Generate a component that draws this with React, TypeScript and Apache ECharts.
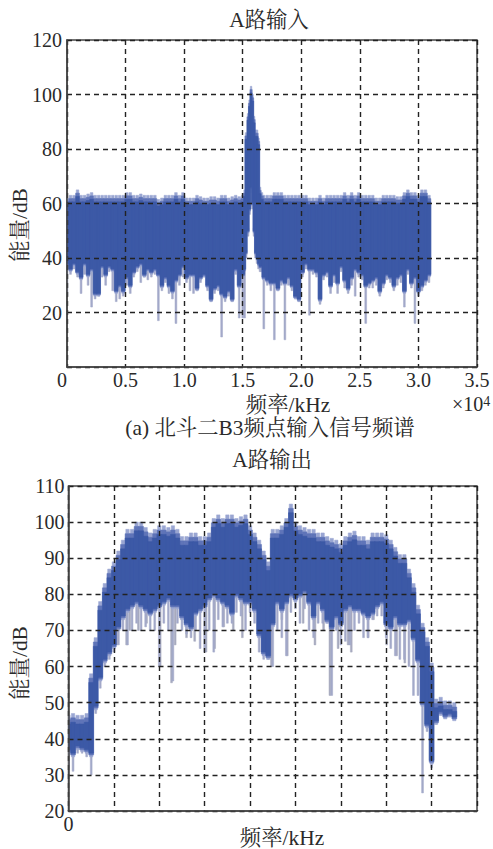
import React, { useEffect, useRef } from "react";
import * as echarts from "echarts";

// [frequency, envelope top, solid band bottom, lowest spike]
const inputRows = [
  [0,62,38,26],[300,63,36,34],[600,63,38,36],[900,65,35,33],[1200,63,33,27],[1500,63,38,34],[1800,63.5,34,30],[2100,64,36,22],[2400,63,27,25],[2700,63,27,26],
  [3000,63,37,33],[3300,63,34,30],[3600,63,37,35],[3900,63,36,28],[4200,63,28,24],[4500,63,30,25],[4800,63,28,26],[5100,64,33,30],[5400,64,30,27],[5700,63,35,33],
  [6000,63,37,35],[6300,63.5,38,31],[6600,63,34,33],[6900,63,36,32],[7200,63,35,33],[7500,63,36,34],[7800,61.5,34,17],[8100,62,30,28],[8400,63,33,31],[8700,63,30,27],
  [9000,63,28,25],[9300,64,32,16],[9600,63,34,30],[9900,64,37,33],[10200,62,33,31],[10500,62,34,28],[10800,62,34,27],[11100,63,29,28],[11400,62.5,33,31],[11700,62,34,33],
  [12000,62,30,28],[12300,62.5,25,24],[12600,62.5,29,27],[12900,62,30,28],[13200,63,27,11],[13500,63,26,24],[13800,62,28,26],[14100,62.5,25,24],[14400,63,36,34],[14700,62.5,30,18],
  [15000,63,34,18],
  [16600,64,37,35],[16800,63,33,14],[17100,63,32,30],[17400,63,31,28],[17700,64,31,10],[18000,64,29,28],[18300,64,32,30],[18600,63,31,10],[18900,63,33,30],[19200,63,30,28],
  [19500,63,26,25],[19800,63,25,24],[20100,63,35,33],[20400,63,38,36],[20700,62,36,19],[21000,62,36,34],[21300,62,35,33],[21600,63,25,23],[21900,62,34,32],[22200,63,35,33],
  [22500,63,30,27],[22800,63,34,31],[23100,63,31,27],[23400,63,37,35],[23700,64,32,29],[24000,63,29,27],[24300,64,33,30],[24600,63,36,26],[24900,64,35,33],[25200,63,34,32],
  [25500,63,30,16],[25800,63,31,29],[26100,63,32,29],[26400,62,33,30],[26700,62,28,26],[27000,63,31,29],[27300,63,34,32],[27600,63,33,31],[27900,63,30,28],[28200,62.5,33,30],
  [28500,62.5,34,31],[28800,64,28,22],[29100,65,36,34],[29400,64,31,29],[29700,64,33,16],[30000,63,28,26],[30300,65,30,28],[30600,65,32,30],[30900,63,34,31],
];
// the narrow carrier peak near 1.57e4, sampled more finely
const inputPeakRows = [
  [15158,65,36,18],[15286,86,42,40],[15457,93,50,48],[15585,98,58,56],[15713,103,66,64],[15841,100,60,58],[15970,92,50,48],[16098,87,42,40],[16225,87,40,38],[16353,84,38,36],[16481,66,37,35],
];
const outputRows = [
  [0,46.5,37,32],[0.1,47,36,31],[0.2,46.5,38,36],[0.3,46.5,37.5,36],[0.4,47,37,35],[0.5,58,36,30],[0.6,68,49,47],[0.7,78,57,54],[0.8,83,62,60],[0.9,87,64,62],
  [1,89,66,64],[1.1,92,71,66],[1.2,95,74,70],[1.3,98,76,66],[1.4,98,77,70],[1.5,100,78,72],[1.6,100,77,70],[1.7,98.5,76,71],[1.8,97,75,70],[1.9,98,76,70],
  [2,99,77,60],[2.1,99,78,72],[2.2,98.5,79,70],[2.3,99,77,56],[2.4,98,77,72],[2.5,96,74,70],[2.6,96,72,69],[2.7,97,71,68],[2.8,97,75,70],[2.9,96,76,65],
  [3,96,77,64],[3.1,97,79,70],[3.2,101,80,64],[3.3,102,79,73],[3.4,101,78,71],[3.5,102,77,72],[3.6,102,75,72],[3.7,101,80,75],[3.8,101.5,79,74],[3.9,102,78,70],
  [4,99,78,75],[4.1,97,76,72],[4.2,95,69,64],[4.3,92,64,62],[4.4,89,63,62],[4.5,98,72,60],[4.6,98,78,70],[4.7,99,76,68],[4.8,101,78,63],[4.9,105,80,75],
  [5,100,79,76],[5.1,99,80,72],[5.2,98.5,81,76],[5.3,98,78,70],[5.4,98,74,68],[5.5,97,78,72],[5.6,97,76,72],[5.7,96,73,72],[5.8,95.5,71,52],[5.9,95,74,70],
  [6,94,72,66],[6.1,96,76,67],[6.2,97,77,66],[6.3,97.5,76,70],[6.4,96,76,72],[6.5,96,75,68],[6.6,95,74,68],[6.7,97,75,73],[6.8,97,77,74],[6.9,97,78,74],
  [7,96.5,72,68],[7.1,95,71,65],[7.2,93,74,63],[7.3,91,72,62],[7.4,91,72,62],[7.5,87,73,60],[7.6,83,68,52],[7.7,77,62,52],[7.8,72,50,25],[7.9,68,44,42],
  [8,61,34,32],[8.1,51,45,44],[8.2,51.5,47.5,46.5],[8.3,50.5,46.5,46],[8.4,50.5,47,46.5],[8.5,50,46,45.5],
];
// thin grey spikes between the columns of the output band: [frequency, lowest value]
const outputSpikes = [
  [1.06,66],[1.28,66],[1.35,70],[1.54,70],[1.72,72],[2.02,60],[2.27,55.5],[2.35,66],[2.6,68],[2.78,67],[3.03,64],[3.22,65],[3.42,71],[3.63,70],[3.83,68],
  [4.33,63],[4.47,60],[4.7,73],[4.82,63],[5.17,72],[5.43,66],[5.62,70],[5.76,52],[5.94,65],[6.16,66],[6.23,64],[6.6,68],[6.72,73],[7.01,66],[7.23,63],[7.41,61],
];
const inputXTicks = ["0", "0.5", "1.0", "1.5", "2.0", "2.5", "3.0", "3.5"];
const inputTitle = "A路输入";
const outputTitle = "A路输出";
const xName = "频率/kHz";
const yName = "能量/dB";
const caption = "(a) 北斗二B3频点输入信号频谱";

const FONT = '"Liberation Serif","Noto Serif CJK SC","Noto Sans CJK SC"';
const INK = "#2a2a2a";

const columns = (width: number, color: string) => (_: any, api: any) => {
  const top = api.coord([api.value(0), api.value(2)]);
  const bottom = api.coord([api.value(0), api.value(1)]);
  const left = Math.max(top[0] - width / 2, _.coordSys.x);
  return {
    type: "rect",
    shape: { x: left, y: top[1], width: top[0] + width / 2 - left, height: bottom[1] - top[1] },
    style: { fill: color, stroke: color, lineWidth: 0.5 },
  };
};

const layer = (data: number[][], axis: number, width: number, color: string, z: number) => ({
  type: "custom",
  xAxisIndex: axis,
  yAxisIndex: axis,
  silent: true,
  z,
  encode: { x: 0, y: [1, 2] },
  data,
  renderItem: columns(width, color),
});

const layers = (rows: number[][], axis: number, width: number) => [
  layer(rows.map((r) => [r[0], r[3], r[2] + 1]), axis, 1.8, "#a3a9c9", 2),
  layer(rows.map((r) => [r[0], r[2] - 1, r[1]]), axis, width * 0.7, "#9aa6d2", 3),
  layer(rows.map((r) => [r[0], r[2] - 0.5, r[1] - 1.2]), axis, width, "#5f74b8", 4),
  layer(rows.map((r) => [r[0], r[2], r[1] - 2.4]), axis, width, "#3c59a6", 5),
];

const label = (text: string, x: number, y: number, extra: any = {}) => ({
  type: "text",
  x,
  y,
  silent: true,
  style: {
    text,
    fill: INK,
    font: `21.4px ${FONT}`,
    align: "center",
    verticalAlign: "middle",
    ...extra,
  },
});

const dashed = { show: true, lineStyle: { color: "#222", type: [5, 4], width: 1.4 } };
const frame = { show: true, onZero: false, lineStyle: { color: "#444", width: 1.5 } };
const ticks = { show: false };
const tickText = { color: INK, fontSize: 20, fontFamily: FONT };

export default function App() {
  const ref = useRef<HTMLDivElement>(null);
  useEffect(() => {
    document.body.style.margin = "0";
    const chart = echarts.init(ref.current!, undefined, { renderer: "svg" });
    chart.setOption({
      animation: false,
      backgroundColor: "#fff",
      grid: [
        { left: 67, top: 40, width: 410, height: 327, show: true, borderColor: "#444", borderWidth: 1.5 },
        { left: 68.5, top: 486, width: 408.5, height: 325, show: true, borderColor: "#444", borderWidth: 1.5 },
      ],
      xAxis: [
        {
          type: "value", gridIndex: 0, min: 0, max: 35000, interval: 5000, z: 10,
          axisLine: frame, axisTick: ticks, splitLine: dashed,
          axisLabel: {
            ...tickText, margin: 3, alignMinLabel: "right", showMaxLabel: true,
            formatter: (v: number) => inputXTicks[Math.round(v / 5000)],
          },
        },
        {
          type: "value", gridIndex: 1, min: 0, max: 9, interval: 1, z: 10,
          axisLine: frame, axisTick: ticks, splitLine: dashed,
          axisLabel: { ...tickText, margin: 3, formatter: (v: number) => (v === 0 ? "0" : "") },
        },
      ],
      yAxis: [
        {
          type: "value", gridIndex: 0, min: 0, max: 120, interval: 20, z: 10,
          axisLine: frame, axisTick: ticks, splitLine: dashed,
          axisLabel: { ...tickText, margin: 5, formatter: (v: number) => (v === 0 ? "" : String(v)) },
        },
        {
          type: "value", gridIndex: 1, min: 20, max: 110, interval: 10, z: 10,
          axisLine: frame, axisTick: ticks, splitLine: dashed,
          axisLabel: { ...tickText, margin: 4 },
        },
      ],
      series: [
        ...layers(inputRows, 0, 3.8),
        ...layers(inputPeakRows, 0, 2.2),
        layer(outputSpikes.map((s) => [s[0], s[1], 85]), 1, 1.8, "#a7aabf", 2),
        ...layers(outputRows, 1, 4.8),
      ],
      graphic: [
        label(inputTitle, 269, 20),
        label(xName, 288, 405),
        label(caption, 270, 428),
        label(outputTitle, 272, 460),
        label(xName, 282, 838),
        { ...label(yName, 20, 225), rotation: Math.PI / 2 },
        { ...label(yName, 20, 663), rotation: Math.PI / 2 },
        {
          type: "text", x: 452, y: 404, silent: true,
          style: {
            text: "×10{s|4}", fill: INK, font: `20px ${FONT}`, verticalAlign: "middle",
            rich: { s: { font: `14px ${FONT}`, fill: INK, verticalAlign: "top", lineHeight: 14 } },
          },
        },
      ],
    });
    return () => chart.dispose();
  }, []);
  return <div ref={ref} style={{ width: 493, height: 849 }} />;
}
